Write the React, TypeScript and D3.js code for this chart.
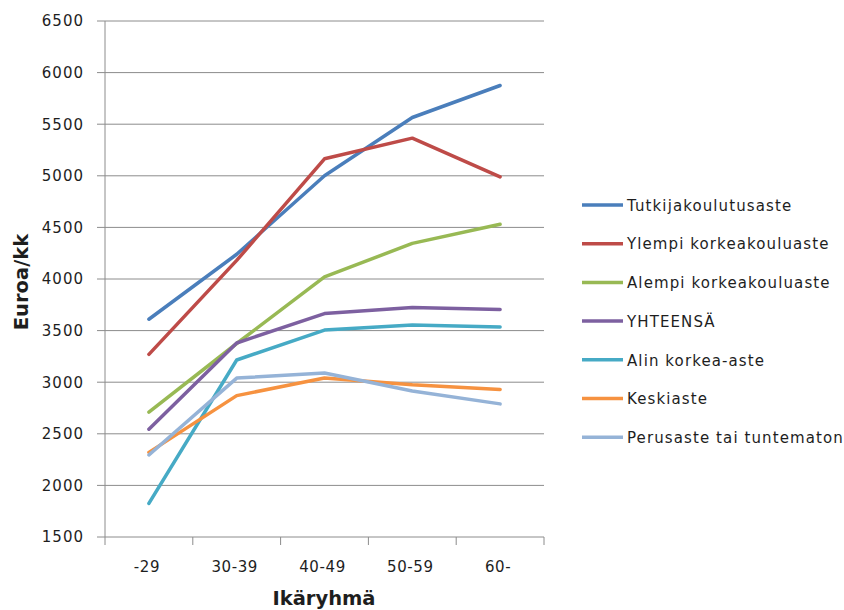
import React from "react";
import * as d3 from "d3";

const categories = ["-29", "30-39", "40-49", "50-59", "60-"];
const seriesNames = [
  "Tutkijakoulutusaste",
  "Ylempi korkeakouluaste",
  "Alempi korkeakouluaste",
  "YHTEENSÄ",
  "Alin korkea-aste",
  "Keskiaste",
  "Perusaste tai tuntematon",
];
const tutkija = [3610, 4240, 5000, 5565, 5875];
const ylempi = [3270, 4180, 5165, 5365, 4990];
const alempi = [2710, 3375, 4020, 4345, 4530];
const yhteensa = [2545, 3380, 3665, 3725, 3705];
const alin = [1825, 3215, 3505, 3555, 3535];
const keski = [2320, 2870, 3040, 2975, 2930];
const perus = [2295, 3040, 3090, 2915, 2790];
const seriesValues = [tutkija, ylempi, alempi, yhteensa, alin, keski, perus];
const colors = ["#4A7EBB", "#BE4B48", "#98B954", "#7D60A0", "#46AAC5", "#F69240", "#95B3D7"];
const yTicks = [1500, 2000, 2500, 3000, 3500, 4000, 4500, 5000, 5500, 6000, 6500];

export default function App() {
  const W = 844, H = 610;
  const left = 105, right = 544, top = 21, bottom = 537;
  const x = d3.scaleBand<string>().domain(categories).range([left, right]);
  const y = d3.scaleLinear().domain([1500, 6500]).range([bottom, top]);
  const line = d3
    .line<number>()
    .x((_, i) => (x(categories[i]) as number) + x.bandwidth() / 2)
    .y((d) => y(d));
  const font = "'DejaVu Sans', Verdana, sans-serif";
  const grid = "#8c8c8c";
  const txt = "#1e1e1e";
  return (
    <div style={{ position: "absolute", left: 0, top: 0 }}>
      <svg width={W} height={H} style={{ display: "block", background: "#fff" }} fontFamily={font}>
        {yTicks.map((t) => (
          <g key={t}>
            <line x1={left - 8} x2={right} y1={y(t)} y2={y(t)} stroke={grid} strokeWidth={1} />
            <text x={84} y={y(t)} dy="0.36em" textAnchor="end" fontSize={15} fill={txt} letterSpacing={1}>
              {t}
            </text>
          </g>
        ))}
        <line x1={left} x2={left} y1={top} y2={bottom} stroke={grid} strokeWidth={1} />
        {categories.map((c) => (
          <line key={"tk" + c} x1={(x(c) as number) + x.bandwidth()} x2={(x(c) as number) + x.bandwidth()} y1={bottom} y2={bottom + 8} stroke={grid} />
        ))}
        <line x1={left} x2={left} y1={bottom} y2={bottom + 8} stroke={grid} />
        {categories.map((c) => (
          <text key={"xl" + c} x={(x(c) as number) + x.bandwidth() / 2 - 2} y={572} textAnchor="middle" fontSize={15} fill={txt} letterSpacing={0.6}>
            {c}
          </text>
        ))}
        {seriesValues.map((vals, i) => (
          <path key={seriesNames[i]} d={line(vals) as string} fill="none" stroke={colors[i]} strokeWidth={3.5} strokeLinejoin="round" strokeLinecap="round" />
        ))}
        {seriesNames.map((n, i) => (
          <g key={"lg" + n}>
            <line x1={582} x2={623} y1={205 + i * 38.7} y2={205 + i * 38.7} stroke={colors[i]} strokeWidth={3.5} />
            <text x={627} y={205 + i * 38.7} dy="0.38em" fontSize={15} fill={txt} letterSpacing={1.1}>
              {n}
            </text>
          </g>
        ))}
        <text transform={`translate(28,282) rotate(-90)`} textAnchor="middle" fontSize={19.5} fontWeight="bold" fill={txt}>
          Euroa/kk
        </text>
        <text x={324} y={605} textAnchor="middle" fontSize={19.5} fontWeight="bold" fill={txt}>
          Ikäryhmä
        </text>
      </svg>
    </div>
  );
}
